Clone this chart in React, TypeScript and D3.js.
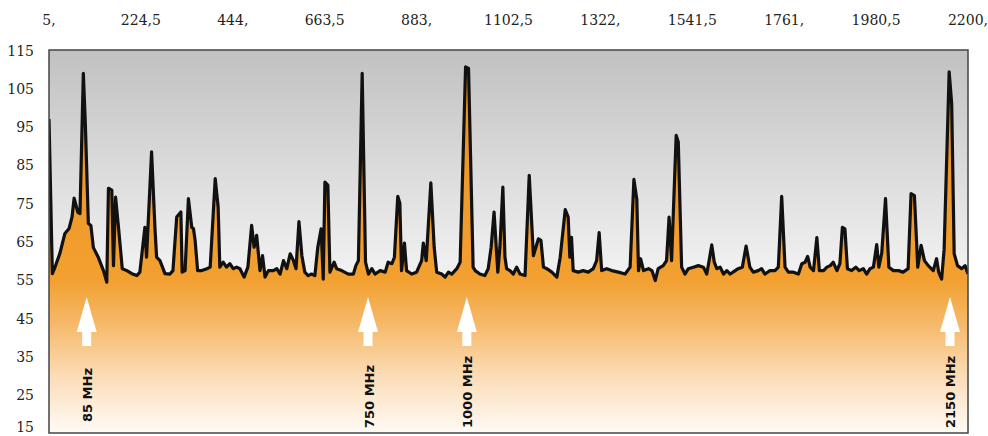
import React from "react";
import * as d3 from "d3";

// Spectrum trace: frequency (MHz) and level (dBµV)
const freqMHz = [5,13,19,31,43,53,60,65,74,79,87,92,99,105,111,123,135,143,147,155,159,164,171,180,191,203,215,222,234,238,250,258,262,270,282,294,301,310,320,323,330,338,346,350,354,360,370,382,390,402,409,413,421,429,437,445,453,461,471,480,489,495,501,509,515,521,529,541,549,557,
565,573,581,589,595,602,609,616,624,632,640,647,655,660,664,671,676,686,692,704,720,732,738,744,753,761,768,776,784,796,808,815,824,830,838,843,847,854,859,871,883,895,899,906,917,925,931,943,951,959,967,979,987,1000,1007,1018,1023,1034,1046,1054,1061,1068,1077,1082,1089,1094,
1098,1106,1114,1122,1130,1142,1152,1162,1174,1180,1186,1194,1206,1218,1226,1238,1245,1249,1253,1257,1269,1281,1293,1305,1313,1319,1325,1337,1349,1365,1381,1393,1402,1409,1413,1418,1425,1437,1445,1453,1460,1472,1480,1486,1492,1503,1508,1516,1524,1532,1544,1556,1568,1576,1581,1588,1594,1600,1608,1616,1624,1632,1644,
1651,1661,1670,1679,1687,1699,1707,1715,1727,1739,1747,1755,1763,1771,1783,1795,1803,1811,1817,1823,1831,1839,1845,1855,1863,1871,1878,1887,1894,1900,1906,1912,1922,1932,1940,1950,1958,1966,1974,1982,1987,1994,2003,2011,2022,2034,2045,2057,2064,2072,2080,2088,2096,2105,2117,2125,2130,2137,2143,2155,2161,2167,2175,2185,2193,2200];
const levelDb = [97,56.6,58.2,61.9,67.1,68.4,71.4,76.3,72.6,72.3,108.9,95,69.7,69.2,63.4,60.8,57.4,54.4,78.9,78.4,58.7,76.6,68.7,57.9,57.4,56.6,56.1,57,68.7,60.9,88.4,68.7,60.9,60,56.6,56.5,57.4,71.4,72.7,57,57.4,76.2,68.7,68.4,65.3,57.4,57.4,57.9,58.3,81.4,74,58.3,59.6,58.3,59.2,57.9,58.3,57.9,55.7,58.3,69.2,63.5,66.6,57.4,61.3,55.7,57.4,57.4,57.9,56.5,
60,57.9,61.8,60,57.9,70.2,61.3,57,56.1,56.5,56.1,63.5,68.3,55.2,80.5,79.7,57,59.6,57.9,57.4,56.5,56.5,58.7,60,108.9,59.6,56.5,57.9,56.5,57.4,57,59.6,59.2,60.9,76.8,75,57.4,64.6,57.4,56.5,57,60,64.6,60,80.3,63.5,57,56.5,55.7,57,56.5,57.9,59.6,110.6,110.2,58.3,57.4,56.5,56.1,57.9,63.5,72.7,57,63.5,79.2,61,
57.9,57.4,56.5,58.3,56.5,56.1,82.3,61.3,65.7,65.3,58.3,57.9,57,55.7,60.9,73.3,71.4,60.9,66.1,57.4,57,57.4,57,57.9,60,67.3,57.4,57.9,57.4,57,56.5,58.3,81.2,76,57.4,60.5,57.4,57.9,57.4,54.8,57.9,58.7,60,71.4,60,92.7,91,58.3,56.5,57.9,58.3,58.7,58.3,56.5,59.6,64.1,59.6,57.9,58.3,56.5,57.4,56.5,57.4,
57.9,58.3,63.8,58.3,57,57.4,57.9,56.5,57.4,57.4,58.3,76.8,58.3,57,57,56.5,59.2,59.6,61.1,58.3,57.4,66,57.4,57.4,58.3,58.7,59.6,57.4,59.2,68.7,68.3,57.9,57.4,58.3,57.4,57.9,56.5,57.9,58.3,64.2,58.3,62,76.2,58.3,57.4,57.4,57,57.9,77.5,77,58.3,64,60,58.7,57.4,60.5,57,55.2,63,109.3,101,61.8,58.7,57.9,58.7,56.5];

const xTickValues = [5, 224.5, 444, 663.5, 883, 1102.5, 1322, 1541.5, 1761, 1980.5, 2200];
const xTickLabels = ["5,", "224,5", "444,", "663,5", "883,", "1102,5", "1322,", "1541,5", "1761,", "1980,5", "2200,"];
const yTickValues = [115, 105, 95, 85, 75, 65, 55, 45, 35, 25, 15];

// Marked frequencies (arrow positions, MHz) and their labels
const markerFreq = [95, 767, 1003, 2157];
const markerLabels = ["85 MHz", "750 MHz", "1000 MHz", "2150 MHz"];

const W = 988, H = 436;
const plot = { left: 49, right: 968, top: 50, bottom: 433 };

export default function App() {
  const x = d3.scaleLinear().domain([5, 2200]).range([plot.left, plot.right]);
  const y = d3.scaleLinear().domain([15, 115]).range([plot.bottom, plot.top]);
  const pts: [number, number][] = freqMHz.map((f, i) => [f, levelDb[i]]);
  const line = d3.line<[number, number]>().x(d => x(d[0])).y(d => y(d[1]));
  const area = d3.area<[number, number]>().x(d => x(d[0])).y0(plot.bottom).y1(d => y(d[1]));

  const serif = "'DejaVu Serif', serif";
  return (
    <svg width={W} height={H} style={{ position: "absolute", left: 0, top: 0, background: "#fff" }}>
      <defs>
        <linearGradient id="bg" gradientUnits="userSpaceOnUse" x1="0" y1={plot.top} x2="0" y2={plot.bottom}>
          <stop offset="0" stopColor="#c1c1c1" />
          <stop offset="0.55" stopColor="#efefef" />
          <stop offset="1" stopColor="#ffffff" />
        </linearGradient>
        <linearGradient id="fill" gradientUnits="userSpaceOnUse" x1="0" y1={plot.top} x2="0" y2={plot.bottom}>
          <stop offset="0" stopColor="#ea9020" />
          <stop offset="0.6" stopColor="#f2a030" />
          <stop offset="0.72" stopColor="#f6ba6c" />
          <stop offset="0.85" stopColor="#fbdcb6" />
          <stop offset="1" stopColor="#fffbf6" />
        </linearGradient>
        <clipPath id="clip">
          <rect x={plot.left} y={plot.top} width={plot.right - plot.left} height={plot.bottom - plot.top} />
        </clipPath>
      </defs>
      <rect x={plot.left} y={plot.top} width={plot.right - plot.left} height={plot.bottom - plot.top} fill="url(#bg)" />
      <g clipPath="url(#clip)">
        <path d={area(pts) || ""} fill="url(#fill)" />
        <path d={line(pts) || ""} fill="none" stroke="#111" strokeWidth={3.2} strokeLinejoin="round" />
      </g>
      {markerFreq.map((f, i) => {
        const cx = x(f);
        const tip = 297, headBase = 332, bottom = 346;
        const p = [
          [cx, tip], [cx + 10, headBase], [cx + 4.5, headBase], [cx + 4.5, bottom],
          [cx - 4.5, bottom], [cx - 4.5, headBase], [cx - 10, headBase],
        ].map(q => q.join(",")).join(" ");
        const ty = i === 0 ? 422 : 428;
        return (
          <g key={i}>
            <polygon points={p} fill="#fff" />
            <text transform={`translate(${cx + 5.5},${ty}) rotate(-90)`} fontFamily="'DejaVu Sans', sans-serif"
              fontWeight="bold" fontSize={13} fill="#111">{markerLabels[i]}</text>
          </g>
        );
      })}
      <rect x={plot.left} y={plot.top} width={plot.right - plot.left} height={plot.bottom - plot.top}
        fill="none" stroke="#444" strokeWidth={1.5} />
      {xTickValues.map((v, i) => (
        <text key={v} x={x(v)} y={25} textAnchor="middle"
          fontFamily={serif} fontSize={14} fill="#222">{xTickLabels[i]}</text>
      ))}
      {yTickValues.map(v => (
        <text key={v} x={34} y={Math.min(y(v) + 5.5, 432)} textAnchor="end" fontFamily={serif} fontSize={14} fill="#222">{v}</text>
      ))}
    </svg>
  );
}
